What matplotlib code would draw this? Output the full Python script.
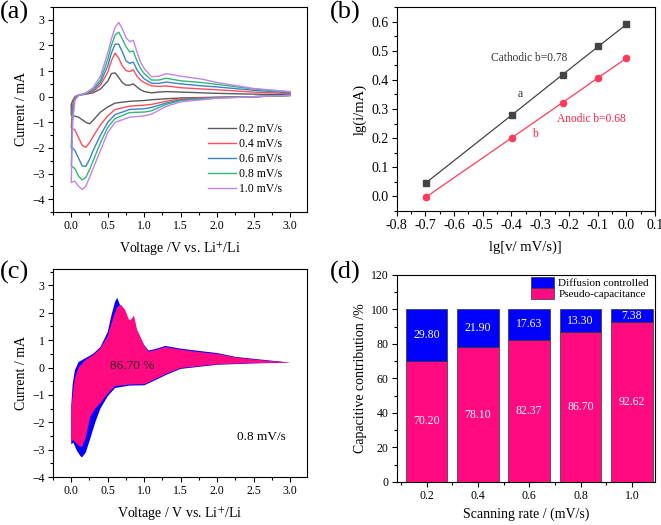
import matplotlib
matplotlib.use("Agg")
import matplotlib.pyplot as plt
from matplotlib.ticker import AutoMinorLocator, MultipleLocator, FormatStrFormatter
from matplotlib.patches import Patch

plt.rcParams['font.family'] = ['Liberation Serif', 'DejaVu Serif']
plt.rcParams['mathtext.fontset'] = 'stix'

# ---- (a) CV curves at different scan rates ----
rates = ["0.2 mV/s", "0.4 mV/s", "0.6 mV/s", "0.8 mV/s", "1.0 mV/s"]
cv_colors = ["#5a5a5a", "#ff4d5a", "#3c82c8", "#2fb878", "#c184ea"]

# anodic branch (0 -> 3 V)
v_an = [0.0, 0.02, 0.05, 0.1, 0.2, 0.3, 0.4, 0.5, 0.55, 0.6, 0.65, 0.7, 0.75,
        0.8, 0.85, 0.9, 0.95, 1.0, 1.1, 1.2, 1.3, 1.5, 1.8, 2.0, 2.5, 3.0]
i_an = [
    [-0.3, -0.15, 0.0, 0.05, 0.1, 0.15, 0.3, 0.6, 0.9, 0.93, 0.75, 0.55, 0.45,
     0.45, 0.5, 0.38, 0.27, 0.2, 0.15, 0.18, 0.2, 0.18, 0.15, 0.13, 0.1, 0.08],
    [-1.2, -0.3, 0.0, 0.07, 0.12, 0.2, 0.45, 0.95, 1.4, 1.7, 1.5, 1.2, 1.02,
     0.98, 1.05, 0.8, 0.65, 0.55, 0.42, 0.4, 0.42, 0.35, 0.3, 0.27, 0.18, 0.12],
    [-2.0, -0.5, -0.05, 0.05, 0.13, 0.25, 0.55, 1.2, 1.7, 2.05, 2.05, 1.75, 1.4,
     1.3, 1.35, 1.05, 0.85, 0.7, 0.52, 0.52, 0.57, 0.5, 0.42, 0.38, 0.25, 0.15],
    [-2.7, -0.7, -0.1, 0.05, 0.14, 0.3, 0.65, 1.45, 2.0, 2.4, 2.52, 2.25, 1.95,
     1.75, 1.78, 1.4, 1.1, 0.9, 0.65, 0.65, 0.72, 0.62, 0.55, 0.48, 0.3, 0.18],
    [-3.35, -1.0, -0.15, 0.05, 0.15, 0.35, 0.8, 1.7, 2.25, 2.7, 2.9, 2.65, 2.3,
     2.15, 2.2, 1.75, 1.35, 1.1, 0.78, 0.8, 0.9, 0.8, 0.68, 0.55, 0.32, 0.2],
]
# cathodic branch (3 -> 0 V)
v_cat = [3.0, 2.5, 2.0, 1.5, 1.3, 1.1, 1.0, 0.8, 0.6, 0.5, 0.4, 0.3, 0.25,
         0.2, 0.15, 0.1, 0.05, 0.02, 0.0]
i_cat = [
    [0.05, 0.0, -0.02, -0.05, -0.08, -0.12, -0.15, -0.18, -0.25, -0.4, -0.6,
     -0.92, -1.06, -1.0, -0.9, -0.8, -0.76, -0.75, -0.72],
    [0.05, 0.0, -0.03, -0.08, -0.18, -0.3, -0.33, -0.37, -0.5, -0.75, -1.1,
     -1.55, -1.8, -1.98, -1.9, -1.6, -1.3, -1.25, -1.2],
    [0.05, 0.0, -0.04, -0.12, -0.25, -0.42, -0.47, -0.5, -0.7, -1.0, -1.5,
     -2.1, -2.45, -2.72, -2.7, -2.4, -2.1, -2.0, -2.0],
    [0.05, 0.0, -0.05, -0.15, -0.3, -0.55, -0.6, -0.62, -0.85, -1.2, -1.8,
     -2.5, -2.85, -3.15, -3.25, -3.1, -2.8, -2.75, -2.7],
    [0.05, 0.0, -0.06, -0.2, -0.38, -0.68, -0.75, -0.8, -1.0, -1.4, -2.1,
     -2.8, -3.15, -3.5, -3.62, -3.5, -3.3, -3.32, -3.35],
]

# ---- (b) b-value fitting ----
log_v = [-0.699, -0.398, -0.222, -0.097, 0.0]
log_i_cath = [0.046, 0.280, 0.418, 0.515, 0.590]
log_i_anod = [-0.003, 0.202, 0.322, 0.408, 0.474]

# ---- (c) capacitive contribution at 0.8 mV/s ----
vc_up = [0.0, 0.02, 0.05, 0.1, 0.2, 0.3, 0.4, 0.5, 0.55, 0.6, 0.63, 0.68, 0.74,
         0.79, 0.82, 0.86, 0.9, 1.0, 1.06, 1.17, 1.29, 1.5, 1.77, 2.0, 2.25, 2.6, 3.0]
total_up = [-1.4, -0.6, -0.1, 0.2, 0.35, 0.5, 0.75, 1.3, 1.9, 2.4, 2.55, 2.2, 1.9,
            1.7, 1.7, 1.75, 1.35, 0.82, 0.62, 0.69, 0.79, 0.69, 0.6, 0.53, 0.39, 0.29, 0.18]
cap_up = [-1.6, -1.0, -0.4, 0.0, 0.28, 0.45, 0.7, 1.15, 1.6, 2.0, 2.2, 2.3, 2.1,
          1.75, 1.75, 1.9, 1.4, 0.8, 0.58, 0.65, 0.75, 0.65, 0.56, 0.5, 0.37, 0.27, 0.18]
vc_dn = [0.0, 0.03, 0.08, 0.13, 0.15, 0.2, 0.26, 0.33, 0.4, 0.5, 0.6, 0.8, 1.0,
         1.17, 1.3, 1.5, 2.0, 2.5, 3.0]
total_dn = [-2.8, -2.75, -3.05, -3.25, -3.28, -3.1, -2.6, -2.0, -1.5, -1.05, -0.75,
            -0.66, -0.65, -0.44, -0.27, -0.05, 0.1, 0.15, 0.18]
cap_dn = [-2.7, -2.65, -2.8, -2.9, -2.88, -2.55, -1.8, -1.5, -1.3, -0.95, -0.68,
          -0.62, -0.61, -0.4, -0.23, -0.02, 0.12, 0.16, 0.18]

# ---- (d) contribution ratios ----
scan_rates = [0.2, 0.4, 0.6, 0.8, 1.0]
pseudo = [70.20, 78.10, 82.37, 86.70, 92.62]
diffusion = [29.80, 21.90, 17.63, 13.30, 7.38]

BLUE = "#0000ff"
PINK = "#ff0a80"

fig = plt.figure(figsize=(6.61, 5.25), dpi=100)
W, H = 661, 525


def add_ax(l, r, t, b):
    return fig.add_axes([l / W, 1 - b / H, (r - l) / W, (b - t) / H])


def style(ax, size=8.5):
    ax.tick_params(which='both', direction='out', labelsize=size, width=0.8, pad=2.5)
    ax.tick_params(which='major', length=3.5)
    ax.tick_params(which='minor', length=2)
    ax.xaxis.set_minor_locator(AutoMinorLocator(2))
    ax.yaxis.set_minor_locator(AutoMinorLocator(2))
    for s in ax.spines.values():
        s.set_linewidth(0.8)


# (a)
ax = add_ax(53, 307, 7, 212)
for k in range(5):
    vv = v_cat + v_an
    ii = i_cat[k] + i_an[k]
    ax.plot(vv, ii, color=cv_colors[k], lw=1.0, label=rates[k])
ax.set_xlim(-0.25, 3.23)
ax.set_ylim(-4.5, 3.5)
ax.xaxis.set_major_locator(MultipleLocator(0.5))
ax.yaxis.set_major_locator(MultipleLocator(1))
ax.xaxis.set_major_formatter(FormatStrFormatter('%.1f'))
style(ax)
ax.set_xlabel("Voltage /V vs. Li$^{+}$/Li", fontsize=10, labelpad=6)
ax.set_ylabel("Current / mA", fontsize=10, labelpad=3)
ax.legend(loc='upper left', bbox_to_anchor=(0.57, 0.485), frameon=False,
          fontsize=8.5, handlelength=2.3, labelspacing=0.25, handletextpad=0.3)

# (b)
ax = add_ax(396.7, 655, 7, 211)
ax.plot(log_v, log_i_cath, color="#444444", lw=0.9, marker='s', ms=4.5)
ax.plot(log_v, log_i_anod, color="#ff3b5c", lw=0.9, marker='o', ms=4.5)
ax.set_xlim(-0.8, 0.1)
ax.set_ylim(-0.05, 0.65)
ax.xaxis.set_major_locator(MultipleLocator(0.1))
ax.yaxis.set_major_locator(MultipleLocator(0.1))
ax.xaxis.set_major_formatter(FormatStrFormatter('%.1f'))
ax.yaxis.set_major_formatter(FormatStrFormatter('%.1f'))
style(ax, size=10)
ax.text(-0.47, 0.474, "Cathodic b=0.78", fontsize=8.3, color="#333333", va='center')
ax.text(-0.38, 0.35, "a", fontsize=8.5, color="#333333", va='center')
ax.text(-0.24, 0.267, "Anodic b=0.68", fontsize=8.3, color="#ff2040", va='center')
ax.text(-0.33, 0.215, "b", fontsize=8.5, color="#ff2040", va='center')
ax.set_xlabel("lg[v/ mV/s)]", fontsize=10.5, labelpad=6)
ax.set_ylabel("lg(i/mA)", fontsize=10.5, labelpad=3)

# (c)
ax = add_ax(53, 307, 269, 477)
ax.fill(vc_up + vc_dn[::-1], total_up + total_dn[::-1], color=BLUE, lw=0)
ax.fill(vc_up + vc_dn[::-1], cap_up + cap_dn[::-1], color=PINK, lw=0)
ax.set_xlim(-0.25, 3.23)
ax.set_ylim(-4, 3.6)
ax.xaxis.set_major_locator(MultipleLocator(0.5))
ax.yaxis.set_major_locator(MultipleLocator(1))
ax.xaxis.set_major_formatter(FormatStrFormatter('%.1f'))
style(ax)
ax.text(0.83, 0.06, "86.70 %", fontsize=9.5, ha='center', va='center', color="#222222")
ax.text(2.61, -2.55, "0.8 mV/s", fontsize=9.5, ha='center', va='center')
ax.set_xlabel("Voltage / V vs. Li$^{+}$/Li", fontsize=10, labelpad=6)
ax.set_ylabel("Current / mA", fontsize=10, labelpad=3)

# (d)
ax = add_ax(397, 655, 274.7, 482)
bw = 0.163
ax.bar(scan_rates, pseudo, width=bw, color=PINK, edgecolor="#333333", lw=0.5)
ax.bar(scan_rates, diffusion, width=bw, bottom=pseudo, color=BLUE,
       edgecolor="#333333", lw=0.5)
for x, p, d in zip(scan_rates, pseudo, diffusion):
    ax.text(x, p / 2, "%.2f" % p, color='white', fontsize=8.5, ha='center', va='center')
    ax.text(x, p + d / 2, "%.2f" % d, color='white', fontsize=8.5, ha='center', va='center')
ax.set_xlim(0.085, 1.09)
ax.set_ylim(0, 120)
ax.set_xticks(scan_rates)
ax.xaxis.set_major_formatter(FormatStrFormatter('%.1f'))
ax.yaxis.set_major_locator(MultipleLocator(20))
style(ax)
ax.legend(handles=[Patch(facecolor=BLUE, edgecolor='#333333', lw=0.5, label="Diffusion controlled"),
                   Patch(facecolor=PINK, edgecolor='#333333', lw=0.5, label="Pseudo-capacitance")],
          loc='upper right', bbox_to_anchor=(0.985, 1.0), frameon=False, fontsize=8,
          handlelength=2.1, handleheight=1.1, labelspacing=0.0, handletextpad=0.35,
          borderaxespad=0.1, borderpad=0.1)
ax.set_xlabel("Scanning rate / (mV/s)", fontsize=10, labelpad=4)
ax.set_ylabel("Capacitive contribution /%", fontsize=10, labelpad=3)

# panel letters
for lab, x, y in [("(a)", 0, 1), ("(b)", 330, 1), ("(c)", 0, 261), ("(d)", 330, 261)]:
    fig.text(x / W, 1 - y / H, lab, fontsize=19, ha='left', va='top')

fig.savefig("out.png", dpi=100)
